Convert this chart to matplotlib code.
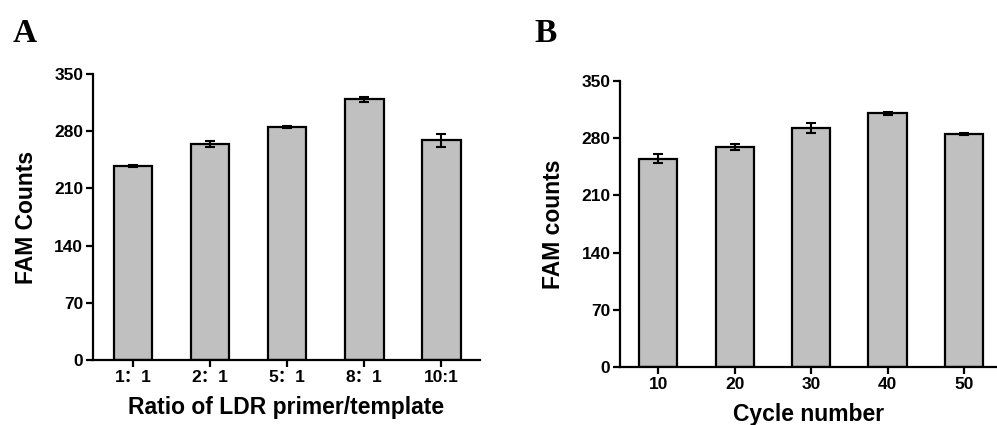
import matplotlib
matplotlib.use("Agg")
import matplotlib.pyplot as plt

# panel A: ratio of LDR primer/template
ratio_labels = ["1\uff1a1", "2\uff1a1", "5\uff1a1", "8\uff1a1", "10:1"]
ratio_counts = [237, 264, 285, 319, 269]
ratio_err = [1, 4, 1, 3, 8]

# panel B: cycle number
cycle_labels = ["10", "20", "30", "40", "50"]
cycle_counts = [255, 269, 292, 310, 285]
cycle_err = [5, 4, 6, 2, 1]

yticks = [0, 70, 140, 210, 280, 350]

plt.rcParams["font.family"] = ["Liberation Sans", "Noto Sans CJK SC", "DejaVu Sans"]
plt.rcParams["font.weight"] = "bold"

fig = plt.figure(figsize=(9.97, 4.25), dpi=100)
axA = fig.add_axes([0.0933, 0.153, 0.388, 0.673])
axB = fig.add_axes([0.622, 0.136, 0.377, 0.674])


def draw(ax, labels, vals, errs, ylabel, xlabel, xlim):
    x = list(range(len(vals)))
    ax.bar(x, vals, width=0.5, color="#c0c0c0", edgecolor="black", linewidth=1.6, zorder=2)
    ax.errorbar(x, vals, yerr=errs, fmt="none", ecolor="black", elinewidth=1.5,
                capsize=3.5, capthick=1.5, zorder=3)
    ax.set_ylim(0, 350)
    ax.set_xlim(*xlim)
    ax.set_yticks(yticks)
    ax.set_xticks(x)
    ax.set_xticklabels(labels)
    for s in ("top", "right"):
        ax.spines[s].set_visible(False)
    for s in ("left", "bottom"):
        ax.spines[s].set_linewidth(1.6)
    ax.tick_params(direction="out", length=5, width=1.6, labelsize=12.5, pad=2)
    ax.set_ylabel(ylabel, fontsize=16.5, fontweight="bold", labelpad=12)
    ax.set_xlabel(xlabel, fontsize=16.5, fontweight="bold", labelpad=8)


draw(axA, ratio_labels, ratio_counts, ratio_err, "FAM Counts",
     "Ratio of LDR primer/template", (-0.52, 4.5))
draw(axB, cycle_labels, cycle_counts, cycle_err, "FAM counts",
     "Cycle number", (-0.5, 4.42))

fig.text(0.013, 0.922, "A", fontsize=24, fontweight="bold", family="Liberation Serif",
         va="center", ha="left")
fig.text(0.536, 0.922, "B", fontsize=24, fontweight="bold", family="Liberation Serif",
         va="center", ha="left")

fig.savefig("out.png", dpi=100)
